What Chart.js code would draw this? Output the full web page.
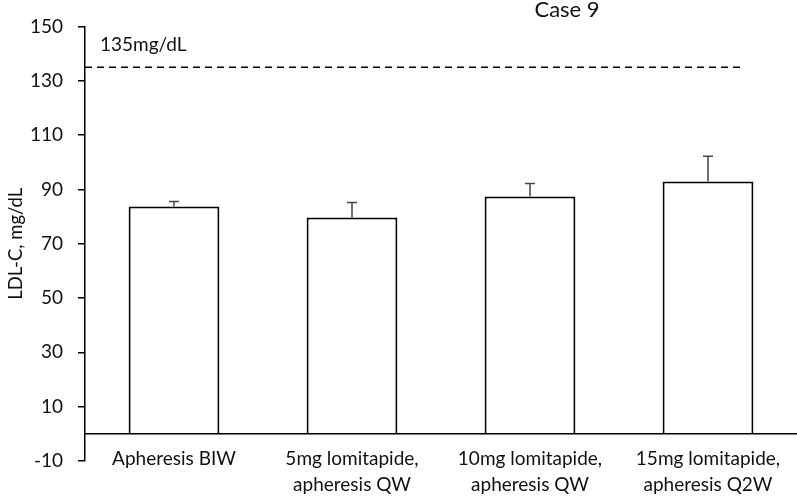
<!DOCTYPE html>
<html>
<head>
<meta charset="utf-8">
<script src="https://cdn.jsdelivr.net/npm/chart.js@4/dist/chart.umd.min.js"></script>
<style>
    html, body { margin: 0; padding: 0; background: #fff; }
    #wrap { width: 797px; height: 497px; position: relative; }
</style>
</head>
<body>
<div id="wrap"><canvas id="graficoCaso9"></canvas></div>
<script>
// ============================================
// DADOS
// ============================================
const categories = [
    ['Apheresis BIW'],
    ['5mg lomitapide,', 'apheresis QW'],
    ['10mg lomitapide,', 'apheresis QW'],
    ['15mg lomitapide,', 'apheresis Q2W']
];
const ldlMeans = [83.7, 79.6, 87.4, 92.9];
const ldlErrorUp = [1.8, 5.6, 4.8, 9.3];
const yTicks = [-10, 10, 30, 50, 70, 90, 110, 130, 150];
const targetLdl = 135;
const targetLabel = '135mg/dL';
const chartTitle = 'Case 9';
const yTitle = 'LDL-C, mg/dL';

const FONT = 'Lato, "Open Sans", sans-serif';
const TEXT = '#111';

// ============================================
// PLUGINS
// ============================================
const Extras = {
    id: 'extras',
    afterDatasetsDraw(chart) {
        const { ctx, chartArea, scales: { x, y } } = chart;
        const meta = chart.getDatasetMeta(0);

        // barras de erro (só para cima)
        ctx.save();
        ctx.strokeStyle = '#444';
        ctx.lineWidth = 1.5;
        meta.data.forEach((bar, i) => {
            const top = y.getPixelForValue(ldlMeans[i] + ldlErrorUp[i]);
            ctx.beginPath();
            ctx.moveTo(bar.x, bar.y);
            ctx.lineTo(bar.x, top);
            ctx.moveTo(bar.x - 5, top);
            ctx.lineTo(bar.x + 5, top);
            ctx.stroke();
        });
        ctx.restore();

        // linha do zero
        const y0 = y.getPixelForValue(0);
        ctx.save();
        ctx.strokeStyle = '#000';
        ctx.lineWidth = 1.5;
        ctx.beginPath();
        ctx.moveTo(chartArea.left, y0);
        ctx.lineTo(chartArea.right, y0);
        ctx.stroke();

        // linha alvo tracejada
        const yt = y.getPixelForValue(targetLdl);
        ctx.setLineDash([7, 5]);
        ctx.beginPath();
        ctx.moveTo(chartArea.left, yt);
        ctx.lineTo(chartArea.left + chartArea.width * 0.924, yt);
        ctx.stroke();
        ctx.setLineDash([]);

        // textos
        ctx.fillStyle = TEXT;
        ctx.textBaseline = 'middle';
        ctx.textAlign = 'left';
        ctx.font = '19px ' + FONT;
        ctx.fillText(targetLabel, chartArea.left + 15, yt - 22);

        ctx.textAlign = 'center';
        ctx.font = '22px ' + FONT;
        ctx.fillText(chartTitle, chartArea.left + chartArea.width * 0.677, 10);

        ctx.font = '19px ' + FONT;
        categories.forEach((lines, i) => {
            const cx = x.getPixelForValue(i);
            lines.forEach((t, j) => ctx.fillText(t, cx, y.getPixelForValue(-10) - 2 + j * 26));
        });
        ctx.restore();
    }
};

// ============================================
// GRÁFICO
// ============================================
const GraficoCaso9 = {
    chart: null,

    init() {
        const ctx = document.getElementById('graficoCaso9').getContext('2d');
        this.chart = new Chart(ctx, {
            type: 'bar',
            data: {
                labels: categories,
                datasets: [{
                    data: ldlMeans,
                    backgroundColor: '#fff',
                    borderColor: '#000',
                    borderWidth: 2,
                    barPercentage: 0.51,
                    categoryPercentage: 1
                }]
            },
            options: {
                responsive: true,
                maintainAspectRatio: false,
                animation: false,
                layout: { padding: { top: 26, bottom: 36, left: 0, right: 0 } },
                plugins: {
                    legend: { display: false },
                    tooltip: { enabled: false }
                },
                scales: {
                    x: { display: false },
                    y: {
                        min: -10,
                        max: 150,
                        afterBuildTicks: (scale) => {
                            scale.ticks = yTicks.map(v => ({ value: v }));
                        },
                        afterFit: (scale) => { scale.width = 85; },
                        border: { display: true, color: '#000', width: 1.5 },
                        grid: { drawOnChartArea: false, drawTicks: true, tickLength: 7, color: '#000', lineWidth: 1.5 },
                        ticks: { color: TEXT, padding: 15, font: { family: FONT, size: 19 } },
                        title: {
                            display: true,
                            text: yTitle,
                            color: TEXT,
                            padding: { top: 5, bottom: 0 },
                            font: { family: FONT, size: 18.5 }
                        }
                    }
                }
            },
            plugins: [Extras]
        });
    }
};

document.addEventListener('DOMContentLoaded', () => GraficoCaso9.init());
</script>
</body>
</html>
